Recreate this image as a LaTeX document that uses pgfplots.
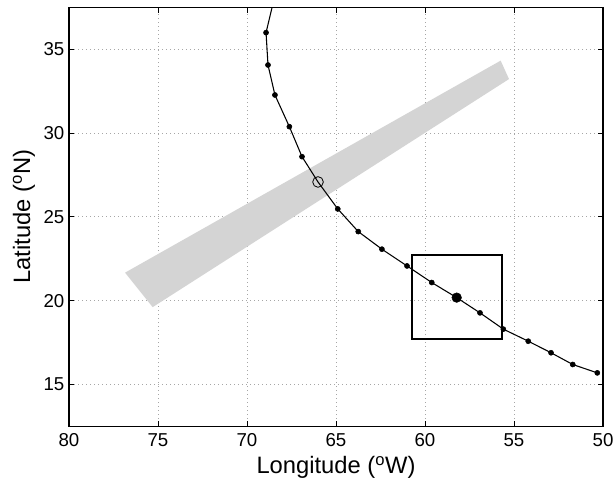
\documentclass[border=0pt]{standalone}
\usepackage{fontspec}
\setmainfont{Liberation Sans}
\usepackage{pgfplots}
\pgfplotsset{compat=1.18}
\begin{document}
\begin{tikzpicture}
\begin{axis}[
  name=ax,
  scale only axis,
  width=400.5pt, height=314.25pt,
  x dir=reverse,
  xmin=50, xmax=80, ymin=12.5, ymax=37.5,
  xtick={50,55,...,80}, ytick={15,20,...,35},
  tick align=inside,
  major tick length=4pt,
  tick style={black, line width=0.6pt},
  axis line style={black, line width=0.9pt},
  grid=major,
  major grid style={gray!70, line width=0.5pt, dash pattern=on 0.6pt off 2.4pt},
  /pgf/number format/assume math mode=true,
  tick label style={font=\fontsize{14}{16}\selectfont},
  xticklabel style={yshift=-2pt},
  label style={font=\fontsize{17.8}{20}\selectfont},
  xlabel={Longitude (\textsuperscript{o}W)},
  ylabel={Latitude (\textsuperscript{o}N)},
  xlabel style={at={(axis description cs:0.5,-0.0979)}, anchor=center},
  ylabel style={at={(axis description cs:-0.0843,0.5)}, anchor=center},
  clip=true,
]
% swath
\addplot[fill=black!17, draw=none] coordinates {
  (76.85,21.67) (75.30,19.61) (55.28,33.22) (55.75,34.32)
} -- cycle;
% box
\addplot[black, line width=1.7pt, line join=miter] coordinates {
  (60.73,17.70) (55.69,17.70) (55.69,22.71) (60.73,22.71)
} -- cycle;
% track line
\addplot[black, line width=0.8pt, mark=none] coordinates {
  (68.50,37.90) (68.93,35.99) (68.82,34.06) (68.43,32.27) (67.62,30.38)
  (66.91,28.59) (66.01,27.08) (64.90,25.47) (63.75,24.12) (62.42,23.07)
  (61.01,22.07) (59.62,21.08) (58.22,20.18) (56.91,19.27) (55.60,18.30)
  (54.20,17.58) (52.92,16.89) (51.70,16.19) (50.32,15.69)
};
% track fixes
\addplot[only marks, mark=*, mark size=1.9pt, black] coordinates {
  (68.93,35.99) (68.82,34.06) (68.43,32.27) (67.62,30.38)
  (66.91,28.59) (64.90,25.47) (63.75,24.12) (62.42,23.07)
  (61.01,22.07) (59.62,21.08) (56.91,19.27) (55.60,18.30)
  (54.20,17.58) (52.92,16.89) (51.70,16.19) (50.32,15.69)
};
% open circle
\addplot[only marks, mark=o, mark size=4pt, black, mark options={line width=0.6pt}] coordinates {(66.01,27.08)};
% big dot
\addplot[only marks, mark=*, mark size=3.6pt, black] coordinates {(58.22,20.18)};
\end{axis}
\pgfresetboundingbox
\path ([xshift=-51.75pt,yshift=-43.5pt]ax.south west) rectangle ([xshift=9pt,yshift=5.5pt]ax.north east);
\end{tikzpicture}
\end{document}
